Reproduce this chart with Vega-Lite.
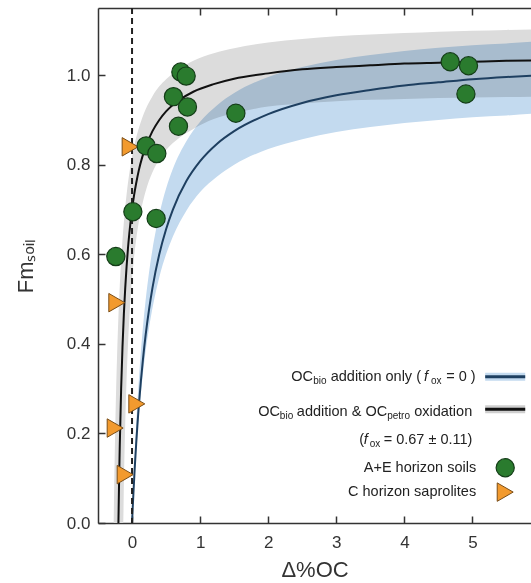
{
  "$schema": "https://vega.github.io/schema/vega-lite/v6.json",
  "width": 433,
  "height": 515,
  "autosize": {"type": "none"},
  "padding": {"left": 98, "top": 8, "right": 0, "bottom": 60},
  "config": {"font": "Liberation Sans", "view": {"stroke": null}},
  "resolve": {"axis": {"x": "independent", "y": "independent"}},
  "datasets": {
    "grayband": [
      {"x": -0.27, "lo": 0, "hi": 0}, {"x": -0.26, "lo": 0, "hi": 0.102}, {"x": -0.25, "lo": 0, "hi": 0.187},
      {"x": -0.24, "lo": 0, "hi": 0.259}, {"x": -0.22, "lo": 0, "hi": 0.373}, {"x": -0.2, "lo": 0, "hi": 0.461},
      {"x": -0.18, "lo": 0, "hi": 0.531}, {"x": -0.16, "lo": 0, "hi": 0.587}, {"x": -0.14, "lo": 0, "hi": 0.633},
      {"x": -0.13, "lo": 0, "hi": 0.653}, {"x": -0.12, "lo": 0.088, "hi": 0.672}, {"x": -0.1, "lo": 0.223, "hi": 0.705},
      {"x": -0.08, "lo": 0.322, "hi": 0.734}, {"x": -0.06, "lo": 0.397, "hi": 0.759}, {"x": -0.04, "lo": 0.457, "hi": 0.781},
      {"x": -0.02, "lo": 0.506, "hi": 0.8}, {"x": 0, "lo": 0.545, "hi": 0.817}, {"x": 0.03, "lo": 0.594, "hi": 0.84},
      {"x": 0.06, "lo": 0.632, "hi": 0.86}, {"x": 0.1, "lo": 0.673, "hi": 0.882}, {"x": 0.15, "lo": 0.711, "hi": 0.905},
      {"x": 0.2, "lo": 0.741, "hi": 0.924}, {"x": 0.3, "lo": 0.783, "hi": 0.953}, {"x": 0.4, "lo": 0.812, "hi": 0.975},
      {"x": 0.5, "lo": 0.833, "hi": 0.991}, {"x": 0.7, "lo": 0.861, "hi": 1.015}, {"x": 0.9, "lo": 0.88, "hi": 1.032},
      {"x": 1.2, "lo": 0.902, "hi": 1.049}, {"x": 1.5, "lo": 0.915, "hi": 1.06}, {"x": 2, "lo": 0.93, "hi": 1.073},
      {"x": 2.5, "lo": 0.937, "hi": 1.081}, {"x": 3, "lo": 0.942, "hi": 1.087}, {"x": 3.5, "lo": 0.945, "hi": 1.091},
      {"x": 4, "lo": 0.947, "hi": 1.094}, {"x": 4.5, "lo": 0.949, "hi": 1.097}, {"x": 5, "lo": 0.95, "hi": 1.099},
      {"x": 5.5, "lo": 0.951, "hi": 1.101}, {"x": 5.9, "lo": 0.952, "hi": 1.102}
    ],
    "blueband": [
      {"x": 0, "lo": 0, "hi": 0}, {"x": 0.01, "lo": 0.031, "hi": 0.043}, {"x": 0.02, "lo": 0.06, "hi": 0.083},
      {"x": 0.04, "lo": 0.113, "hi": 0.155}, {"x": 0.06, "lo": 0.16, "hi": 0.217}, {"x": 0.08, "lo": 0.202, "hi": 0.272},
      {"x": 0.1, "lo": 0.24, "hi": 0.32}, {"x": 0.13, "lo": 0.29, "hi": 0.383}, {"x": 0.16, "lo": 0.334, "hi": 0.437},
      {"x": 0.2, "lo": 0.384, "hi": 0.498}, {"x": 0.25, "lo": 0.436, "hi": 0.56}, {"x": 0.3, "lo": 0.48, "hi": 0.611},
      {"x": 0.4, "lo": 0.549, "hi": 0.689}, {"x": 0.5, "lo": 0.6, "hi": 0.747}, {"x": 0.6, "lo": 0.64, "hi": 0.791},
      {"x": 0.8, "lo": 0.698, "hi": 0.853}, {"x": 1, "lo": 0.739, "hi": 0.896}, {"x": 1.25, "lo": 0.774, "hi": 0.933},
      {"x": 1.5, "lo": 0.8, "hi": 0.96}, {"x": 2, "lo": 0.835, "hi": 0.996}, {"x": 2.5, "lo": 0.857, "hi": 1.018},
      {"x": 3, "lo": 0.873, "hi": 1.034}, {"x": 3.5, "lo": 0.884, "hi": 1.045}, {"x": 4, "lo": 0.893, "hi": 1.054},
      {"x": 4.5, "lo": 0.9, "hi": 1.061}, {"x": 5, "lo": 0.906, "hi": 1.067}, {"x": 5.5, "lo": 0.91, "hi": 1.071},
      {"x": 5.9, "lo": 0.914, "hi": 1.075}
    ],
    "blackline": [
      {"x": -0.2, "y": 0}, {"x": -0.19, "y": 0.0955}, {"x": -0.18, "y": 0.175}, {"x": -0.16, "y": 0.3},
      {"x": -0.14, "y": 0.394}, {"x": -0.12, "y": 0.467}, {"x": -0.1, "y": 0.525}, {"x": -0.08, "y": 0.573},
      {"x": -0.06, "y": 0.613}, {"x": -0.04, "y": 0.646}, {"x": -0.02, "y": 0.675}, {"x": 0, "y": 0.7},
      {"x": 0.03, "y": 0.732}, {"x": 0.06, "y": 0.758}, {"x": 0.1, "y": 0.788}, {"x": 0.15, "y": 0.817},
      {"x": 0.2, "y": 0.84}, {"x": 0.3, "y": 0.875}, {"x": 0.4, "y": 0.9}, {"x": 0.5, "y": 0.919},
      {"x": 0.7, "y": 0.945}, {"x": 0.9, "y": 0.963}, {"x": 1.2, "y": 0.98}, {"x": 1.5, "y": 0.992},
      {"x": 2, "y": 1.004}, {"x": 2.5, "y": 1.013}, {"x": 3, "y": 1.018}, {"x": 3.5, "y": 1.022},
      {"x": 4, "y": 1.026}, {"x": 4.5, "y": 1.028}, {"x": 5, "y": 1.03}, {"x": 5.5, "y": 1.032}, {"x": 5.9, "y": 1.033}
    ],
    "blueline": [
      {"x": 0, "y": 0}, {"x": 0.01, "y": 0.034}, {"x": 0.02, "y": 0.066}, {"x": 0.04, "y": 0.124},
      {"x": 0.06, "y": 0.175}, {"x": 0.08, "y": 0.221}, {"x": 0.1, "y": 0.263}, {"x": 0.13, "y": 0.317},
      {"x": 0.16, "y": 0.365}, {"x": 0.2, "y": 0.42}, {"x": 0.25, "y": 0.477}, {"x": 0.3, "y": 0.525},
      {"x": 0.4, "y": 0.6}, {"x": 0.5, "y": 0.656}, {"x": 0.6, "y": 0.7}, {"x": 0.8, "y": 0.764},
      {"x": 1, "y": 0.808}, {"x": 1.25, "y": 0.847}, {"x": 1.5, "y": 0.875}, {"x": 2, "y": 0.913},
      {"x": 2.5, "y": 0.938}, {"x": 3, "y": 0.955}, {"x": 3.5, "y": 0.967}, {"x": 4, "y": 0.977},
      {"x": 4.5, "y": 0.984}, {"x": 5, "y": 0.991}, {"x": 5.5, "y": 0.996}, {"x": 5.9, "y": 0.999}
    ],
    "soils": [
      {"x": 0.717, "y": 1.007}, {"x": 0.795, "y": 0.998}, {"x": 0.608, "y": 0.952}, {"x": 0.814, "y": 0.929},
      {"x": 0.682, "y": 0.886}, {"x": 1.525, "y": 0.915}, {"x": 0.207, "y": 0.842}, {"x": 0.364, "y": 0.825},
      {"x": 4.673, "y": 1.03}, {"x": 4.942, "y": 1.021}, {"x": 4.904, "y": 0.958}, {"x": 0.012, "y": 0.695},
      {"x": 0.354, "y": 0.68}, {"x": -0.238, "y": 0.595}
    ],
    "saprolites": [
      {"x": -0.028, "y": 0.84}, {"x": -0.224, "y": 0.492}, {"x": 0.07, "y": 0.266},
      {"x": -0.248, "y": 0.212}, {"x": -0.101, "y": 0.108}
    ],
    "legendlines": [
      {"row": "bio", "x": 5.187, "x2": 5.775, "y": 0.3263},
      {"row": "ox", "x": 5.187, "x2": 5.775, "y": 0.2538}
    ],
    "legendtext": [
      {"x": 2.337, "y": 0.3263, "t": "OC"},
      {"x": 2.918, "y": 0.3263, "t": "addition only ("},
      {"x": 4.614, "y": 0.3263, "t": "= 0 )"},
      {"x": 1.853, "y": 0.2483, "t": "OC"},
      {"x": 2.421, "y": 0.2483, "t": "addition & OC"},
      {"x": 4.144, "y": 0.2483, "t": "oxidation"},
      {"x": 3.336, "y": 0.1858, "t": "("},
      {"x": 3.696, "y": 0.1858, "t": "= 0.67 ± 0.11)"}
    ],
    "legendsub": [
      {"x": 2.66, "y": 0.3174, "t": "bio"},
      {"x": 4.39, "y": 0.3174, "t": "ox"},
      {"x": 2.171, "y": 0.2394, "t": "bio"},
      {"x": 3.748, "y": 0.2394, "t": "petro"},
      {"x": 3.49, "y": 0.1769, "t": "ox"}
    ],
    "legenditalic": [
      {"x": 4.29, "y": 0.3263, "t": "f"},
      {"x": 3.405, "y": 0.1858, "t": "f"}
    ],
    "legendright": [
      {"x": 5.055, "y": 0.1234, "t": "A+E horizon soils"},
      {"x": 5.055, "y": 0.069, "t": "C horizon saprolites"}
    ],
    "legendsoil": [{"x": 5.481, "y": 0.1234}],
    "legendsap": [{"x": 5.481, "y": 0.069}]
  },
  "layer": [
    {
      "data": {"name": "grayband"},
      "mark": {"type": "area", "color": "#dcdcdc", "interpolate": "monotone"},
      "encoding": {
        "x": {
          "field": "x", "type": "quantitative",
          "scale": {"domain": [-0.5, 5.86], "nice": false, "zero": false},
          "axis": {
            "values": [0, 1, 2, 3, 4, 5], "format": "d", "grid": false,
            "tickSize": -7, "tickWidth": 1.5, "tickColor": "#333",
            "domainColor": "#333", "domainWidth": 1.5,
            "labelFontSize": 17, "labelColor": "#333", "labelPadding": 18,
            "title": "Δ%OC", "titleFontSize": 22, "titleFontWeight": "normal",
            "titleColor": "#333", "titlePadding": 9
          }
        },
        "y": {
          "field": "hi", "type": "quantitative",
          "scale": {"domain": [0, 1.15], "nice": false, "zero": false},
          "axis": {
            "values": [0, 0.2, 0.4, 0.6, 0.8, 1.0], "format": ".1f", "grid": false,
            "tickSize": -7, "tickWidth": 1.5, "tickColor": "#333",
            "domainColor": "#333", "domainWidth": 1.5,
            "labelFontSize": 17, "labelColor": "#333", "labelPadding": 15,
            "title": "Fmₛₒᵢₗ", "titleFontSize": 22, "titleFontWeight": "normal",
            "titleColor": "#333", "titlePadding": 29
          }
        },
        "y2": {"field": "lo"}
      }
    },
    {
      "data": {"name": "blueband"},
      "mark": {"type": "area", "color": "#c3daef", "blend": "multiply", "interpolate": "monotone"},
      "encoding": {
        "x": {"field": "x", "type": "quantitative", "axis": null},
        "y": {"field": "hi", "type": "quantitative", "axis": null},
        "y2": {"field": "lo"}
      }
    },
    {
      "data": {"name": "blackline"},
      "mark": {"type": "line", "color": "#111111", "strokeWidth": 2, "interpolate": "monotone"},
      "encoding": {
        "x": {
          "field": "x", "type": "quantitative",
          "axis": {
            "orient": "top", "values": [1, 2, 3, 4, 5], "labels": false, "title": null, "grid": false,
            "tickSize": -7, "tickWidth": 1.5, "tickColor": "#333",
            "domainColor": "#333", "domainWidth": 1.5
          }
        },
        "y": {"field": "y", "type": "quantitative", "axis": null}
      }
    },
    {
      "data": {"name": "blueline"},
      "mark": {"type": "line", "color": "#1e3f60", "strokeWidth": 2, "interpolate": "monotone"},
      "encoding": {
        "x": {"field": "x", "type": "quantitative", "axis": null},
        "y": {"field": "y", "type": "quantitative", "axis": null}
      }
    },
    {
      "data": {"values": [{"x": 0}]},
      "mark": {"type": "rule", "color": "#222222", "strokeWidth": 2, "strokeDash": [6, 4]},
      "encoding": {
        "x": {"field": "x", "type": "quantitative", "axis": null}
      }
    },
    {
      "data": {"name": "saprolites"},
      "mark": {"type": "point", "shape": "triangle-right", "filled": true, "fill": "#f29a2e", "stroke": "#7a4d17", "strokeWidth": 1, "size": 340, "opacity": 1},
      "encoding": {
        "x": {"field": "x", "type": "quantitative", "axis": null},
        "y": {"field": "y", "type": "quantitative", "axis": null}
      }
    },
    {
      "data": {"name": "soils"},
      "mark": {"type": "point", "shape": "circle", "filled": true, "fill": "#2a7b2e", "stroke": "#143d18", "strokeWidth": 1.2, "size": 330, "opacity": 1},
      "encoding": {
        "x": {"field": "x", "type": "quantitative", "axis": null},
        "y": {"field": "y", "type": "quantitative", "axis": null}
      }
    },
    {
      "data": {"name": "legendlines"},
      "transform": [{"filter": "datum.row == 'bio'"}],
      "mark": {"type": "rule", "color": "#c3daef", "strokeWidth": 8},
      "encoding": {
        "x": {"field": "x", "type": "quantitative", "axis": null},
        "x2": {"field": "x2"},
        "y": {"field": "y", "type": "quantitative", "axis": null}
      }
    },
    {
      "data": {"name": "legendlines"},
      "transform": [{"filter": "datum.row == 'ox'"}],
      "mark": {"type": "rule", "color": "#cfcfcf", "strokeWidth": 8},
      "encoding": {
        "x": {"field": "x", "type": "quantitative", "axis": null},
        "x2": {"field": "x2"},
        "y": {"field": "y", "type": "quantitative", "axis": null}
      }
    },
    {
      "data": {"name": "legendlines"},
      "transform": [{"filter": "datum.row == 'bio'"}],
      "mark": {"type": "rule", "color": "#1e3f60", "strokeWidth": 3},
      "encoding": {
        "x": {"field": "x", "type": "quantitative", "axis": null},
        "x2": {"field": "x2"},
        "y": {"field": "y", "type": "quantitative", "axis": null}
      }
    },
    {
      "data": {"name": "legendlines"},
      "transform": [{"filter": "datum.row == 'ox'"}],
      "mark": {"type": "rule", "color": "#111111", "strokeWidth": 3},
      "encoding": {
        "x": {"field": "x", "type": "quantitative", "axis": null},
        "x2": {"field": "x2"},
        "y": {"field": "y", "type": "quantitative", "axis": null}
      }
    },
    {
      "data": {"name": "legendtext"},
      "mark": {"type": "text", "align": "left", "baseline": "middle", "fontSize": 14.5, "color": "#222222"},
      "encoding": {
        "x": {"field": "x", "type": "quantitative", "axis": null},
        "y": {"field": "y", "type": "quantitative", "axis": null},
        "text": {"field": "t"}
      }
    },
    {
      "data": {"name": "legendsub"},
      "mark": {"type": "text", "align": "left", "baseline": "middle", "fontSize": 10, "color": "#222222"},
      "encoding": {
        "x": {"field": "x", "type": "quantitative", "axis": null},
        "y": {"field": "y", "type": "quantitative", "axis": null},
        "text": {"field": "t"}
      }
    },
    {
      "data": {"name": "legenditalic"},
      "mark": {"type": "text", "align": "left", "baseline": "middle", "fontSize": 14.5, "fontStyle": "italic", "color": "#222222"},
      "encoding": {
        "x": {"field": "x", "type": "quantitative", "axis": null},
        "y": {"field": "y", "type": "quantitative", "axis": null},
        "text": {"field": "t"}
      }
    },
    {
      "data": {"name": "legendright"},
      "mark": {"type": "text", "align": "right", "baseline": "middle", "fontSize": 14.5, "color": "#222222"},
      "encoding": {
        "x": {"field": "x", "type": "quantitative", "axis": null},
        "y": {"field": "y", "type": "quantitative", "axis": null},
        "text": {"field": "t"}
      }
    },
    {
      "data": {"name": "legendsoil"},
      "mark": {"type": "point", "shape": "circle", "filled": true, "fill": "#2a7b2e", "stroke": "#143d18", "strokeWidth": 1.2, "size": 330, "opacity": 1},
      "encoding": {
        "x": {"field": "x", "type": "quantitative", "axis": null},
        "y": {"field": "y", "type": "quantitative", "axis": null}
      }
    },
    {
      "data": {"name": "legendsap"},
      "mark": {"type": "point", "shape": "triangle-right", "filled": true, "fill": "#f29a2e", "stroke": "#7a4d17", "strokeWidth": 1, "size": 340, "opacity": 1},
      "encoding": {
        "x": {"field": "x", "type": "quantitative", "axis": null},
        "y": {"field": "y", "type": "quantitative", "axis": null}
      }
    }
  ]
}
